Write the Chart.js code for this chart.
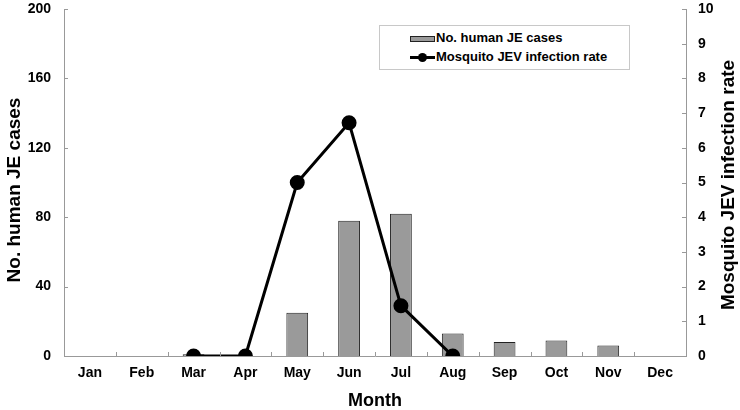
<!DOCTYPE html>
<html><head><meta charset="utf-8">
<script src="https://cdn.jsdelivr.net/npm/chart.js@4/dist/chart.umd.min.js"></script>
<style>
html,body{margin:0;padding:0;background:#fff;}
#wrap{position:relative;width:740px;height:410px;}
#legend{position:absolute;left:379px;top:25px;width:251px;height:45px;border:1px solid #c8c8c8;background:#fff;box-sizing:border-box;font:bold 13px "Liberation Sans",Arial,sans-serif;color:#000;}
#legend .it{position:absolute;left:30px;height:16px;line-height:16px;white-space:nowrap;}
</style></head>
<body><div id="wrap"><canvas id="c" width="740" height="410"></canvas><div id="legend"></div></div>
<script>
const months = ['Jan','Feb','Mar','Apr','May','Jun','Jul','Aug','Sep','Oct','Nov','Dec'];
const humanCases = [null, null, 1, null, 25, 78, 82, 13, 8, 9, 6, null];
const mosquitoRate = [null, null, 0, 0, 5.0, 6.72, 1.45, 0, null, null, null, null];
const leftTicks = [0, 40, 80, 120, 160, 200];
const rightTicks = [0,1,2,3,4,5,6,7,8,9,10];
const xTitle = 'Month';
const leftTitle = 'No. human JE cases';
const rightTitle = 'Mosquito JEV infection rate';

const FONT = '"Liberation Sans", Arial, sans-serif';

const customAxes = {
  id:'customAxes',
  afterDraw(chart){
    const {ctx, chartArea:a, scales} = chart;
    ctx.save();
    ctx.strokeStyle = '#999';
    ctx.lineWidth = 1;
    const xs = scales.x;
    for (let i=1;i<months.length;i++){
      const px = Math.round((xs.getPixelForValue(i-1)+xs.getPixelForValue(i))/2)+0.5;
      ctx.beginPath(); ctx.moveTo(px,a.bottom); ctx.lineTo(px,a.bottom-4); ctx.stroke();
    }
    leftTicks.forEach(v=>{
      const py = Math.round(scales.y.getPixelForValue(v))+0.5;
      ctx.beginPath(); ctx.moveTo(a.left,py); ctx.lineTo(a.left+4,py); ctx.stroke();
    });
    rightTicks.forEach(v=>{
      const py = Math.round(scales.y1.getPixelForValue(v))+0.5;
      ctx.beginPath(); ctx.moveTo(a.right,py); ctx.lineTo(a.right-4,py); ctx.stroke();
    });
    ctx.fillStyle='#000';
    ctx.textAlign='center'; ctx.textBaseline='middle';
    ctx.font = 'bold 18px ' + FONT;
    ctx.fillText(xTitle, (a.left+a.right)/2, 401);
    ctx.font = 'bold 19px ' + FONT;
    ctx.save();
    ctx.translate(15, 190);
    ctx.rotate(-Math.PI/2);
    ctx.fillText(leftTitle, 0, 0);
    ctx.restore();
    ctx.save();
    ctx.translate(729, 185);
    ctx.rotate(-Math.PI/2);
    ctx.fillText(rightTitle, 0, 0);
    ctx.restore();
    ctx.restore();
  }
};

function fixY(w){ return function(s){ s.width = w; s.paddingTop = 0; s.paddingBottom = 0; }; }

const chart = new Chart(document.getElementById('c'), {
  data: {
    labels: months,
    datasets: [
      { type:'bar', label:'No. human JE cases', data: humanCases, yAxisID:'y',
        backgroundColor:'#9a9a9a', borderColor:'#222', borderWidth:1,
        barPercentage:0.42, categoryPercentage:1.0, order:2 },
      { type:'line', label:'Mosquito JEV infection rate', data: mosquitoRate, yAxisID:'y1',
        borderColor:'#000', backgroundColor:'#000', borderWidth:3,
        pointRadius:6, pointBackgroundColor:'#000', pointBorderColor:'#000',
        tension:0, spanGaps:false, order:1 }
    ]
  },
  options: {
    responsive:false, animation:false,
    layout:{ padding:{ top:9, left:0, right:0, bottom:0 } },
    plugins:{ legend:{display:false}, tooltip:{enabled:false} },
    scales:{
      x:{
        offset:true,
        grid:{ display:false, drawTicks:false },
        border:{ color:'#999', width:1 },
        ticks:{ color:'#000', font:{family:FONT, size:14, weight:'bold'}, padding:9, maxRotation:0 },
        title:{ display:false },
        afterFit(s){ s.height = 54; s.paddingLeft = 0; s.paddingRight = 0; }
      },
      y:{
        position:'left', min:0, max:200,
        afterBuildTicks(s){ s.ticks = leftTicks.map(v=>({value:v})); },
        grid:{ display:false, drawTicks:false },
        border:{ color:'#999', width:1 },
        ticks:{ color:'#000', font:{family:FONT, size:14, weight:'bold'}, padding:13 },
        title:{ display:false },
        afterFit: fixY(64)
      },
      y1:{
        position:'right', min:0, max:10,
        afterBuildTicks(s){ s.ticks = rightTicks.map(v=>({value:v})); },
        grid:{ display:false, drawTicks:false },
        border:{ color:'#999', width:1 },
        ticks:{ color:'#000', font:{family:FONT, size:14, weight:'bold'}, padding:12 },
        title:{ display:false },
        afterFit: fixY(54)
      }
    }
  },
  plugins:[customAxes]
});

const lg = document.getElementById('legend');
chart.data.datasets.forEach((ds,i)=>{
  const it = document.createElement('div');
  it.className='it';
  it.style.top = (i===0 ? 4 : 23)+'px';
  const sw = document.createElement('span');
  if (ds.type==='bar'){
    sw.style.cssText='display:inline-block;vertical-align:middle;width:25px;height:6px;background:'+ds.backgroundColor+';border:1px solid '+ds.borderColor+';margin-right:1px;box-sizing:border-box;';
  } else {
    sw.style.cssText='display:inline-block;vertical-align:middle;width:25px;height:3px;background:#000;margin-right:1px;position:relative;';
    const dot=document.createElement('span');
    dot.style.cssText='position:absolute;left:8px;top:-3px;width:9px;height:9px;border-radius:50%;background:#000;';
    sw.appendChild(dot);
  }
  it.appendChild(sw);
  it.appendChild(document.createTextNode(ds.label));
  lg.appendChild(it);
});
</script></body></html>
